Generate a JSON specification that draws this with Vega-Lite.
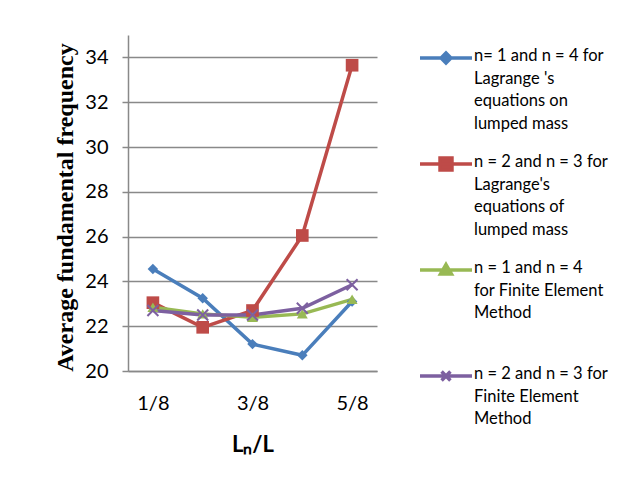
{
  "$schema": "https://vega.github.io/schema/vega-lite/v6.json",
  "autosize": "none",
  "width": 249,
  "height": 336,
  "padding": {"left": 128, "top": 35, "right": 264, "bottom": 117},
  "background": "white",
  "config": {"view": {"stroke": null}},
  "data": {"values": [
    {"x": "1/8", "s": "A", "y": 24.55},
    {"x": "2/8", "s": "A", "y": 23.25},
    {"x": "3/8", "s": "A", "y": 21.2},
    {"x": "4/8", "s": "A", "y": 20.7},
    {"x": "5/8", "s": "A", "y": 23.1},
    {"x": "1/8", "s": "B", "y": 23.05},
    {"x": "2/8", "s": "B", "y": 21.95},
    {"x": "3/8", "s": "B", "y": 22.7},
    {"x": "4/8", "s": "B", "y": 26.05},
    {"x": "5/8", "s": "B", "y": 33.65},
    {"x": "1/8", "s": "C", "y": 22.85},
    {"x": "2/8", "s": "C", "y": 22.55},
    {"x": "3/8", "s": "C", "y": 22.4},
    {"x": "4/8", "s": "C", "y": 22.55},
    {"x": "5/8", "s": "C", "y": 23.2},
    {"x": "1/8", "s": "D", "y": 22.7},
    {"x": "2/8", "s": "D", "y": 22.5},
    {"x": "3/8", "s": "D", "y": 22.5},
    {"x": "4/8", "s": "D", "y": 22.8},
    {"x": "5/8", "s": "D", "y": 23.85}
  ]},
  "encoding": {
    "x": {
      "field": "x", "type": "ordinal", "sort": null,
      "scale": {"type": "point", "padding": 0.5},
      "axis": {
        "title": "Lₙ/L",
        "titleFont": "Lato", "titleFontSize": 22, "titleFontWeight": "bold", "titleColor": "#000",
        "titlePadding": 21,
        "labelExpr": "indexof(['1/8','3/8','5/8'], datum.value) >= 0 ? datum.value : ''",
        "labelFont": "Lato", "labelFontSize": 20, "labelColor": "#000", "labelAngle": 0,
        "labelPadding": 22, "ticks": false,
        "domainColor": "#898989", "domainWidth": 1.5, "grid": false
      }
    },
    "y": {
      "field": "y", "type": "quantitative",
      "scale": {"domain": [20, 35], "nice": false, "zero": false},
      "axis": {
        "title": "Average fundamental frequency",
        "titleFont": "Liberation Serif", "titleFontSize": 24, "titleFontWeight": "bold", "titleColor": "#000",
        "titlePadding": 7,
        "titleY": 172,
        "values": [20, 22, 24, 26, 28, 30, 32, 34],
        "labelFont": "Lato", "labelFontSize": 20, "labelColor": "#000", "labelPadding": 14,
        "tickSize": 6, "tickColor": "#898989", "tickWidth": 1.5,
        "grid": true, "gridColor": "#898989", "gridWidth": 1.5,
        "domainColor": "#898989", "domainWidth": 1.5
      }
    },
    "color": {
      "field": "s", "type": "nominal",
      "scale": {"domain": ["A", "B", "C", "D"], "range": ["#4A7EBB", "#BE4B48", "#98B954", "#7D60A0"]},
      "legend": {
        "title": null,
        "orient": "none", "legendX": 290, "legendY": -5,
        "rowPadding": 4,
        "labelFont": "Lato", "labelFontSize": 16.5, "labelColor": "#000",
        "labelBaseline": "top",
        "labelOffset": 0,
        "labelLimit": 300,
        "symbolSize": 2704,
        "symbolStrokeWidth": 3.5,
        "labelExpr": "datum.label === 'A' ? [\"n= 1 and n = 4 for\", \"Lagrange 's\", \"equations on\", \"lumped mass\"] : datum.label === 'B' ? [\"n = 2 and n = 3 for\", \"Lagrange's\", \"equations of\", \"lumped mass\"] : datum.label === 'C' ? [\"n = 1 and n  = 4\", \"for Finite Element\", \"Method\", \" \"] : [\"n = 2 and n = 3 for\", \"Finite Element\", \"Method\"]",
        "encode": {
          "labels": {"update": {"lineHeight": {"value": 22.5}, "dy": {"value": -10}}},
          "symbols": {"update": {
            "fill": {"signal": "scale('color', datum.value)"},
            "stroke": {"signal": "scale('color', datum.value)"},
            "strokeWidth": {"value": 3.5},
            "opacity": {"value": 1},
            "fillOpacity": {"value": 1},
            "strokeOpacity": {"value": 1}
          }}
        }
      }
    }
  },
  "layer": [
    {
      "mark": {"type": "line", "strokeWidth": 3.5},
      "encoding": {
        "shape": {"field": "s", "type": "nominal", "scale": {"domain": ["A", "B", "C", "D"], "range": [
          "M-1,0H1M0,-0.19L0.19,0L0,0.19L-0.19,0Z",
          "M-1,0H1M-0.23,-0.23H0.23V0.23H-0.23Z",
          "M-1,0H1M0,-0.21L0.21,0.15L-0.21,0.15Z",
          "M-1,0H1M-0.17,-0.17L0.17,0.17M-0.17,0.17L0.17,-0.17"
        ]}}
      }
    },
    {
      "transform": [{"filter": "datum.s === 'A'"}],
      "mark": {"type": "point", "filled": true, "opacity": 1, "shape": "diamond", "size": 110}
    },
    {
      "transform": [{"filter": "datum.s === 'B'"}],
      "mark": {"type": "point", "filled": true, "opacity": 1, "shape": "square", "size": 160}
    },
    {
      "transform": [{"filter": "datum.s === 'C'"}],
      "mark": {"type": "point", "filled": true, "opacity": 1, "shape": "triangle-up", "size": 120}
    },
    {
      "transform": [{"filter": "datum.s === 'D'"}],
      "mark": {"type": "point", "filled": false, "opacity": 1, "shape": "M-1,-1L1,1M-1,1L1,-1", "size": 120, "strokeWidth": 2}
    }
  ]
}
